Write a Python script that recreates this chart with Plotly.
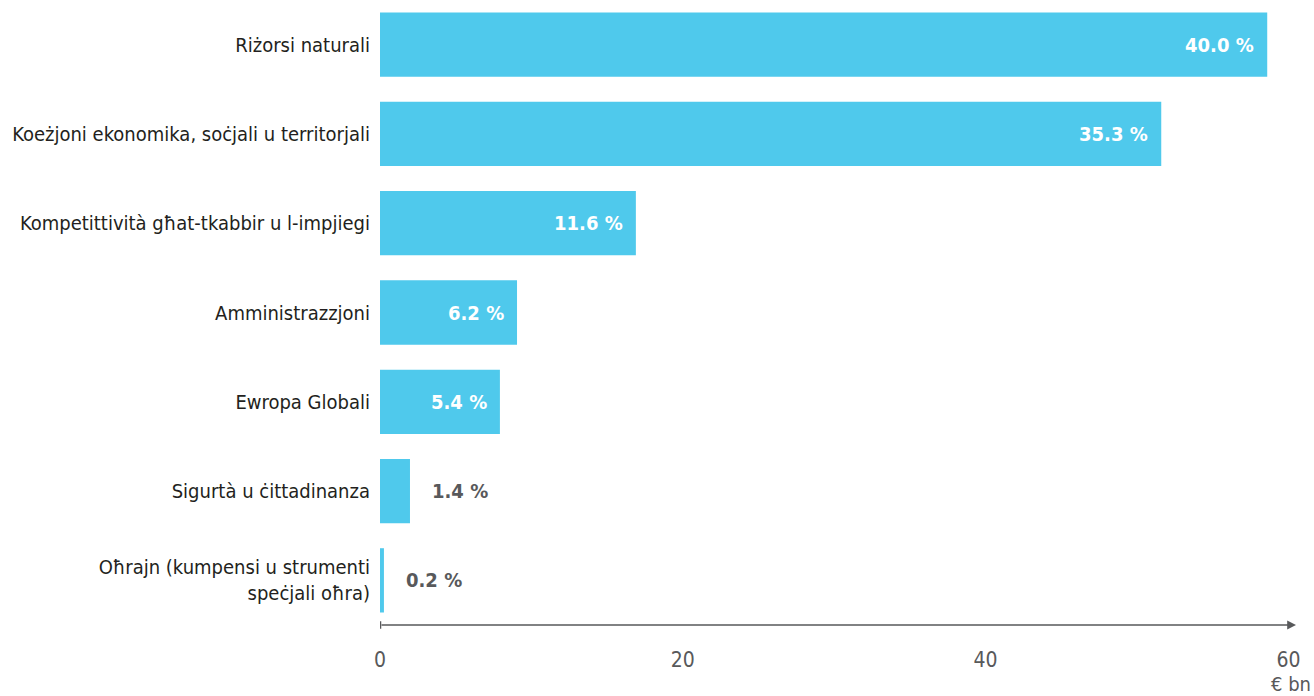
import plotly.graph_objects as go

categories = [
    "Riżorsi naturali",
    "Koeżjoni ekonomika, soċjali u territorjali",
    "Kompetittività għat-tkabbir u l-impjiegi",
    "Amministrazzjoni",
    "Ewropa Globali",
    "Sigurtà u ċittadinanza",
    "Oħrajn (kumpensi u strumenti<br>speċjali oħra)",
]
values_bn = [58.6, 51.6, 16.9, 9.05, 7.92, 1.98, 0.26]
shares = ["40.0 %", "35.3 %", "11.6 %", "6.2 %", "5.4 %", "1.4 %", "0.2 %"]
inside = [True, True, True, True, True, False, False]
x_ticks = [0, 20, 40, 60]

BAR = "#4FC9EC"
GREY = "#58595B"
FONT = "DejaVu Sans Condensed, Liberation Sans Narrow, sans-serif"
XMAX = 60.5

fig = go.Figure()
fig.add_trace(go.Bar(
    x=values_bn, y=categories, orientation="h",
    marker=dict(color=BAR, line=dict(width=0)),
    hoverinfo="skip",
))

for cat, v, s, ins in zip(categories, values_bn, shares, inside):
    fig.add_annotation(
        x=v, y=cat, xref="x", yref="y", text="<b>" + s + "</b>",
        showarrow=False,
        xanchor="right" if ins else "left",
        xshift=-11 if ins else 20,
        font=dict(family=FONT, size=20, color="white" if ins else GREY),
    )

# axis line with arrow
fig.add_annotation(
    x=XMAX, y=6.5, ax=0, ay=6.5, xref="x", yref="y", axref="x", ayref="y",
    showarrow=True, arrowhead=2, arrowsize=1.1, arrowwidth=1.6,
    arrowcolor=GREY, text="",
)
fig.add_shape(type="line", xref="x", yref="paper", x0=0, x1=0, y0=-0.006, y1=0.006,
              line=dict(color=GREY, width=2.5))

fig.add_annotation(
    x=1, y=0, xref="paper", yref="paper", text="€ bn", showarrow=False,
    xanchor="right", yanchor="middle", yshift=-59, xshift=17,
    font=dict(family=FONT, size=20, color=GREY),
)

fig.update_layout(
    width=1314, height=696,
    margin=dict(l=380, r=18, t=0, b=71, autoexpand=False),
    paper_bgcolor="white", plot_bgcolor="white",
    showlegend=False,
    bargap=0.28,
    font=dict(family=FONT, size=20, color="#231F20"),
)
fig.update_xaxes(
    range=[0, XMAX], tickvals=x_ticks, ticktext=[str(t) for t in x_ticks],
    showgrid=False, zeroline=False, showline=False, ticks="",
    ticklabelstandoff=20, automargin=False,
    tickfont=dict(family=FONT, size=21, color=GREY),
)
fig.update_yaxes(
    range=[6.5, -0.5], showgrid=False, zeroline=False, showline=False, ticks="",
    ticklabelstandoff=9, automargin=False,
    tickfont=dict(family=FONT, size=20, color="#231F20"),
)

fig.write_html(
    "out.html",
    config={"displayModeBar": False, "staticPlot": True},
    post_script="document.body.style.margin='0';document.body.style.overflow='hidden';",
)
